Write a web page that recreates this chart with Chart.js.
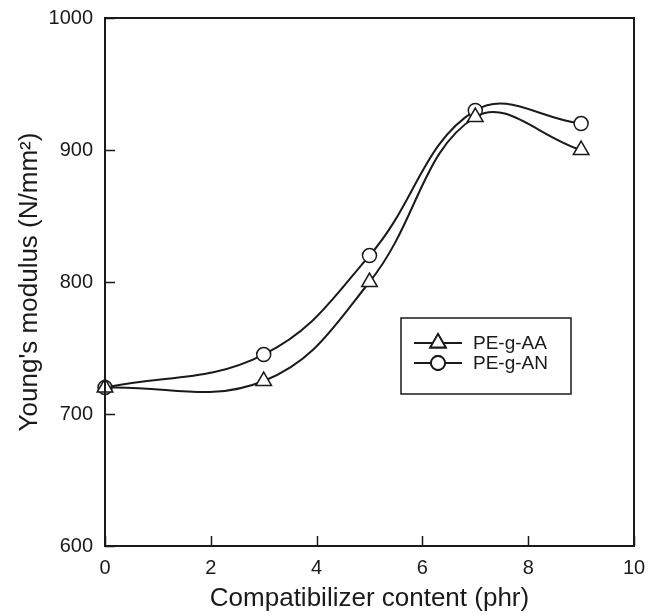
<!DOCTYPE html>
<html>
<head>
<meta charset="utf-8">
<script src="https://cdn.jsdelivr.net/npm/chart.js@4"></script>
<style>
  html, body { margin:0; padding:0; background:#fff; }
  #wrap { width:656px; height:616px; }
</style>
</head>
<body>
<div id="wrap"><canvas id="c" width="656" height="616"></canvas></div>
<script>

/* data */
let contents = [0, 3, 5, 7, 9];
let modulusAA = [720, 725, 800, 925, 900];
let modulusAN = [720, 745, 820, 930, 920];
let seriesNames = ["PE-g-AA", "PE-g-AN"];
let xTicks = [0, 2, 4, 6, 8, 10];
let yTicks = [600, 700, 800, 900, 1000];

let ink = "#1a1a1a";
let fontFamily = "'Liberation Sans', Arial, sans-serif";

function toPoints(values){

   return contents.map(function(x, i){
      return { x: x, y: values[i] };
   });

}

/* frame + inward ticks */
let framePlugin = {

   id: "frame",

   afterDatasetsDraw: function(chart){

      let ctx = chart.ctx;
      let a = chart.chartArea;
      let xs = chart.scales.x;
      let ys = chart.scales.y;

      ctx.save();
      ctx.strokeStyle = ink;
      ctx.lineWidth = 2;
      ctx.strokeRect(a.left, a.top, a.right - a.left, a.bottom - a.top);

      ctx.lineWidth = 1.5;
      ctx.beginPath();
      xTicks.forEach(function(v){
         let px = Math.round(xs.getPixelForValue(v)) + 0.5;
         ctx.moveTo(px, a.bottom);
         ctx.lineTo(px, a.bottom - 10);
      });
      yTicks.forEach(function(v){
         let py = Math.round(ys.getPixelForValue(v)) + 0.5;
         ctx.moveTo(a.left, py);
         ctx.lineTo(a.left + 10, py);
      });
      ctx.stroke();
      ctx.restore();

   }

};

/* boxed legend inside the plot */
let legendPlugin = {

   id: "boxLegend",

   afterDraw: function(chart){

      let ctx = chart.ctx;
      let a = chart.chartArea;
      let left = a.left + 296;
      let top = a.top + 300;
      let w = 170;
      let h = 76;

      ctx.save();
      ctx.fillStyle = "#fff";
      ctx.fillRect(left, top, w, h);
      ctx.strokeStyle = ink;
      ctx.lineWidth = 1.5;
      ctx.strokeRect(left, top, w, h);

      ctx.font = "19px " + fontFamily;
      ctx.textBaseline = "middle";

      chart.data.datasets.forEach(function(ds, i){

         let cy = top + 25 + i * 20;
         ctx.strokeStyle = ink;
         ctx.lineWidth = 1.8;
         ctx.beginPath();
         ctx.moveTo(left + 13, cy);
         ctx.lineTo(left + 61, cy);
         ctx.stroke();

         Chart.helpers.drawPoint(ctx, {
            pointStyle: ds.pointStyle,
            radius: ds.pointRadius,
            borderWidth: 1.5
         }, left + 37, cy);
         ctx.fillStyle = "#fff";
         ctx.fill();
         ctx.stroke();

         ctx.fillStyle = ink;
         ctx.fillText(ds.label, left + 72, cy + 1);

      });

      ctx.restore();

   }

};

function makeSet(name, values, style, radius){

   return {
      label: name,
      data: toPoints(values),
      pointStyle: style,
      pointRadius: radius,
      pointBorderWidth: 1.5,
      pointBackgroundColor: "#fff",
      pointBorderColor: ink,
      borderColor: ink,
      borderWidth: 2,
      backgroundColor: "#fff",
      tension: 0.4,
      fill: false,
      clip: false
   };

}

new Chart(document.getElementById("c"), {

   type: "line",

   data: {
      datasets: [
         makeSet(seriesNames[0], modulusAA, "triangle", 9),
         makeSet(seriesNames[1], modulusAN, "circle", 7)
      ]
   },

   options: {

      responsive: false,
      animation: false,
      events: [],

      layout: {
         padding: { top: 18, right: 22, left: 0, bottom: 0 }
      },

      plugins: {
         legend: { display: false },
         tooltip: { enabled: false }
      },

      scales: {

         x: {
            type: "linear",
            min: 0,
            max: 10,
            afterBuildTicks: function(s){
               s.ticks = xTicks.map(function(v){ return { value: v }; });
            },
            afterFit: function(s){
               s.height = 70;
               s.paddingLeft = 0;
               s.paddingRight = 0;
            },
            grid: { display: false, drawTicks: false },
            border: { display: false },
            ticks: {
               color: ink,
               padding: 10,
               font: { size: 20, family: fontFamily },
               callback: function(v){ return String(v); }
            },
            title: {
               display: true,
               text: "Compatibilizer content (phr)",
               color: ink,
               padding: { top: 0, bottom: 2 },
               font: { size: 26, family: fontFamily }
            }
         },

         y: {
            type: "linear",
            min: 600,
            max: 1000,
            afterBuildTicks: function(s){
               s.ticks = yTicks.map(function(v){ return { value: v }; });
            },
            afterFit: function(s){
               s.width = 105;
               s.paddingTop = 0;
               s.paddingBottom = 0;
            },
            grid: { display: false, drawTicks: false },
            border: { display: false },
            ticks: {
               color: ink,
               padding: 12,
               font: { size: 20, family: fontFamily },
               callback: function(v){ return String(v); }
            },
            title: {
               display: true,
               text: "Young's modulus (N/mm\u00B2)",
               color: ink,
               padding: { top: 14, bottom: 0 },
               font: { size: 26, family: fontFamily }
            }
         }

      }

   },

   plugins: [framePlugin, legendPlugin]

});

</script>
</body>
</html>
